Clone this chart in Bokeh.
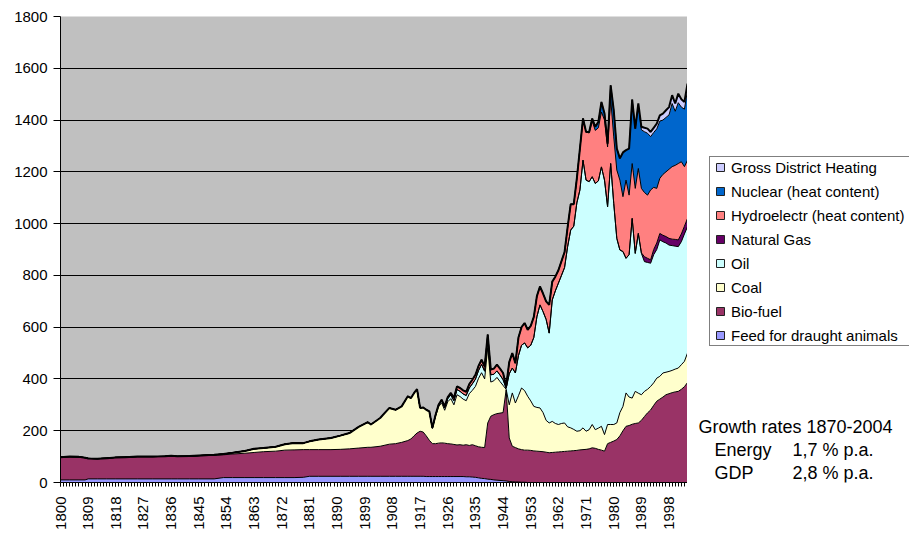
import numpy as np
from bokeh.plotting import figure
from bokeh.layouts import row
from bokeh.models import ColumnDataSource, Range1d, FixedTicker, Legend, LegendItem, Label
from bokeh.embed import file_html
from bokeh.resources import INLINE

# ---------------- data ----------------
years_early = [1800, 1803, 1806, 1808, 1809, 1812, 1815, 1818, 1821, 1825,
               1830, 1834, 1836, 1838, 1842, 1845, 1850, 1853, 1856, 1860,
               1863, 1866, 1870, 1873, 1876, 1879, 1881, 1884, 1888, 1891,
               1894, 1897, 1900, 1901, 1904, 1907, 1909, 1911, 1913, 1914,
               1915, 1916, 1917, 1918, 1919]
years = years_early + list(range(1920, 2005))

feed = [10, 10, 10, 10, 14, 14, 14, 14, 14, 14,
        14, 14, 14, 14, 14, 14, 14, 19, 19, 19,
        19, 19, 19, 19, 19, 20, 24, 24, 24, 24,
        24, 24, 24, 24, 24, 24, 24, 24, 24, 24,
        24, 24, 24, 24, 23,
        23, 23, 23, 23, 23, 23, 23, 23, 23, 23,
        23, 23, 22, 22, 21, 20, 18, 16, 15, 13,
        12, 10, 9, 8, 7, 6, 4, 3, 2, 2,
        1, 1, 0, 0, 0, 0, 0, 0, 0, 0,
        0, 0, 0, 0, 0, 0, 0, 0, 0, 0,
        0, 0, 0, 0, 0, 0, 0, 0, 0, 0,
        0, 0, 0, 0, 0, 0, 0, 0, 0, 0,
        0, 0, 0, 0, 0, 0, 0, 0, 0, 0,
        0, 0, 0, 0, 0]

bio = [88, 90, 89, 86, 79, 78, 80, 83, 84, 86,
       86, 87, 89, 87, 88, 89, 91, 88, 91, 94,
       97, 100, 102, 106, 107, 107, 103, 103, 103, 104,
       106, 109, 112, 112, 116, 124, 126, 131, 138, 144,
       156, 167, 174, 171, 157,
       140, 127, 127, 129, 130, 129, 127, 126, 124, 122,
       123, 121, 124, 121, 125, 122, 120, 120, 120, 217,
       244, 252, 257, 260, 263, 352, 168, 137, 133, 128,
       126, 124, 125, 124, 122, 121, 120, 119, 117, 115,
       116, 117, 118, 119, 120, 121, 122, 123, 124, 126,
       127, 128, 130, 134, 132, 128, 125, 121, 150, 155,
       160, 166, 180, 200, 217, 220, 225, 228, 230, 240,
       255, 269, 280, 298, 314, 322, 330, 339, 343, 347,
       350, 352, 360, 370, 386]

coal = [0, 0, 0, 0, 0, 0, 0, 0, 0, 0,
        0, 0, 0, 0, 0, 1, 2, 3, 5, 9,
        14, 14, 17, 23, 27, 25, 32, 39, 45, 53,
        61, 82, 97, 88, 109, 140, 131, 139, 171, 158,
        165, 170, 90, 95, 101,
        109, 58, 104, 140, 155, 127, 162, 175, 153, 194,
        186, 178, 170, 200, 210, 229, 264, 288, 265, 291,
        132, 131, 140, 122, 105, 2, 128, 206, 172, 205,
        238, 230, 208, 191, 172, 169, 168, 151, 123, 115,
        120, 111, 106, 109, 110, 94, 89, 82, 74, 74,
        84, 70, 74, 90, 72, 82, 92, 64, 74, 69,
        64, 64, 90, 94, 129, 110, 101, 124, 115, 99,
        97, 91, 91, 87, 89, 88, 93, 87, 86, 86,
        88, 90, 95, 98, 114]

oil = [0, 0, 0, 0, 0, 0, 0, 0, 0, 0,
       0, 0, 0, 0, 0, 0, 0, 0, 0, 0,
       0, 0, 0, 0, 0, 0, 0, 0, 0, 0,
       0, 0, 0, 0, 0, 0, 0, 0, 0, 0,
       0, 0, 0, 0, 0,
       3, 3, 5, 6, 8, 10, 12, 14, 16, 20,
       20, 20, 20, 22, 25, 28, 30, 32, 30, 30,
       28, 25, 25, 25, 22, 4, 120, 96, 116, 155,
       165, 184, 187, 215, 266, 350, 398, 390, 390, 347,
       469, 512, 546, 572, 600, 696, 764, 785, 882, 930,
       1034, 970, 958, 957, 951, 955, 1002, 983, 841, 1008,
       854, 713, 628, 598, 520, 550, 694, 533, 617, 546,
       501, 490, 476, 495, 497, 527, 507, 499, 488, 482,
       475, 469, 475, 492, 488]

gas = [0, 0, 0, 0, 0, 0, 0, 0, 0, 0,
       0, 0, 0, 0, 0, 0, 0, 0, 0, 0,
       0, 0, 0, 0, 0, 0, 0, 0, 0, 0,
       0, 0, 0, 0, 0, 0, 0, 0, 0, 0,
       0, 0, 0, 0, 0,
       0, 0, 0, 0, 0, 0, 0, 0, 0, 0,
       0, 0, 0, 0, 0, 0, 0, 0, 0, 0,
       0, 0, 0, 0, 0, 0, 0, 0, 0, 0,
       0, 0, 0, 0, 0, 0, 0, 0, 0, 0,
       0, 0, 0, 0, 0, 0, 0, 0, 0, 0,
       0, 0, 0, 0, 0, 0, 0, 0, 0, 0,
       0, 0, 0, 0, 0, 0, 0, 0, 0, 2,
       19, 16, 13, 20, 25, 25, 25, 25, 26, 25,
       26, 26, 30, 30, 32]

hydro = [0, 0, 0, 0, 0, 0, 0, 0, 0, 0,
         0, 0, 0, 0, 0, 0, 0, 0, 0, 0,
         0, 0, 0, 0, 0, 0, 0, 0, 0, 0,
         0, 0, 0, 0, 0, 0, 0, 0, 0, 0,
         0, 0, 0, 0, 0,
         0, 0, 1, 2, 4, 5, 6, 8, 10, 12,
         13, 14, 14, 15, 16, 17, 18, 18, 18, 20,
         20, 22, 24, 25, 26, 8, 45, 58, 38, 70,
         70, 77, 70, 75, 80, 80, 71, 70, 70, 109,
         71, 55, 50, 55, 60, 75, 100, 85, 95, 160,
         161, 186, 188, 214, 205, 205, 212, 232, 231, 251,
         257, 264, 270, 212, 302, 230, 212, 251, 251, 249,
         248, 244, 270, 240, 211, 213, 235, 250, 267, 280,
         286, 295, 279, 230, 225]

nuclear = [0, 0, 0, 0, 0, 0, 0, 0, 0, 0,
           0, 0, 0, 0, 0, 0, 0, 0, 0, 0,
           0, 0, 0, 0, 0, 0, 0, 0, 0, 0,
           0, 0, 0, 0, 0, 0, 0, 0, 0, 0,
           0, 0, 0, 0, 0,
           0, 0, 0, 0, 0, 0, 0, 0, 0, 0,
           0, 0, 0, 0, 0, 0, 0, 0, 0, 0,
           0, 0, 0, 0, 0, 0, 0, 0, 0, 0,
           0, 0, 0, 0, 0, 0, 0, 0, 0, 0,
           0, 0, 0, 0, 0, 0, 0, 0, 0, 0,
           0, 0, 4, 11, 14, 23, 39, 25, 13, 51,
           103, 83, 84, 171, 116, 180, 247, 231, 246, 226,
           235, 239, 206, 212, 230, 221, 210, 210, 210, 244,
           209, 235, 211, 222, 270]

district_heating = [0, 0, 0, 0, 0, 0, 0, 0, 0, 0,
                    0, 0, 0, 0, 0, 0, 0, 0, 0, 0,
                    0, 0, 0, 0, 0, 0, 0, 0, 0, 0,
                    0, 0, 0, 0, 0, 0, 0, 0, 0, 0,
                    0, 0, 0, 0, 0,
                    0, 0, 0, 0, 0, 0, 0, 0, 0, 0,
                    0, 0, 0, 0, 0, 0, 0, 0, 0, 0,
                    0, 0, 0, 0, 0, 0, 0, 0, 0, 0,
                    0, 0, 0, 0, 0, 0, 0, 0, 0, 0,
                    0, 0, 0, 0, 0, 0, 0, 0, 0, 0,
                    0, 0, 0, 0, 0, 0, 0, 0, 0, 0,
                    0, 0, 0, 0, 0, 0, 0, 0, 5, 12,
                    15, 18, 18, 18, 20, 22, 25, 28, 30, 32,
                    30, 35, 30, 28, 26]

series_names = ["feed", "bio", "coal", "oil", "gas", "hydro", "nuclear", "dh"]
series_labels = ["Feed for draught animals", "Bio-fuel", "Coal", "Oil", "Natural Gas",
                 "Hydroelectr (heat content)", "Nuclear (heat content)", "Gross District Heating"]
series_colors = ["#9999FF", "#993366", "#FFFFCC", "#CCFFFF", "#660066",
                 "#FF8080", "#0066CC", "#CCCCFF"]

x_tick_years = [1800, 1809, 1818, 1827, 1836, 1845, 1854, 1863, 1872, 1881, 1890,
                1899, 1908, 1917, 1926, 1935, 1944, 1953, 1962, 1971, 1980, 1989, 1998]
y_ticks = [0, 200, 400, 600, 800, 1000, 1200, 1400, 1600, 1800]

growth_title = "Growth rates 1870-2004"
growth_rows = [("Energy", "1,7 % p.a."), ("GDP", "2,8 % p.a.")]

# ---------------- main plot ----------------
cols = [feed, bio, coal, oil, gas, hydro, nuclear, district_heating]
data = dict(year=years)
for n, c in zip(series_names, cols):
    data[n] = c
source = ColumnDataSource(data)

FONT = "Liberation Sans"

p = figure(width=687, height=533, output_backend="svg", toolbar_location=None,
           x_range=Range1d(1800, 2004), y_range=Range1d(0, 1800),
           min_border_left=60, min_border_right=0, min_border_top=16,
           min_border_bottom=51)
p.background_fill_color = "#C0C0C0"
p.border_fill_color = "white"
p.outline_line_color = None

p.varea_stack(stackers=series_names, x="year", color=series_colors, source=source)

cum = np.cumsum(np.array(cols, dtype=float), axis=0)
for i in range(len(series_names)):
    p.line(years, cum[i], line_color="black",
           line_width=2 if i == len(series_names) - 1 else 1)

p.xaxis.ticker = FixedTicker(ticks=x_tick_years, minor_ticks=list(range(1800, 2005)))
p.xaxis.major_label_orientation = np.pi / 2
p.xaxis.major_label_text_font = FONT
p.xaxis.major_label_text_font_size = "15px"
p.xaxis.major_label_text_color = "black"
p.xaxis.major_label_standoff = 10
p.xaxis.major_tick_out = 4
p.xaxis.major_tick_in = 0
p.xaxis.minor_tick_out = 4
p.xaxis.minor_tick_in = 0
p.xaxis.axis_line_color = "black"
p.xaxis.major_tick_line_color = "black"
p.xaxis.minor_tick_line_color = "black"

p.yaxis.ticker = FixedTicker(ticks=y_ticks, minor_ticks=[])
p.yaxis.major_label_text_font = FONT
p.yaxis.major_label_text_font_size = "15px"
p.yaxis.major_label_text_color = "black"
p.yaxis.major_label_standoff = 6
p.yaxis.major_tick_out = 7
p.yaxis.major_tick_in = 0
p.yaxis.minor_tick_out = 0
p.yaxis.minor_tick_in = 0
p.yaxis.axis_line_color = "black"
p.yaxis.major_tick_line_color = "black"

p.xgrid.grid_line_color = None
p.ygrid.ticker = FixedTicker(ticks=y_ticks)
p.ygrid.grid_line_color = "black"
p.ygrid.grid_line_width = 1

# ---------------- side panel: legend + growth note ----------------
side = figure(width=222, height=533, output_backend="svg", toolbar_location=None,
              x_range=Range1d(0, 1), y_range=Range1d(0, 1),
              x_axis_type=None, y_axis_type=None, min_border=0)
side.grid.grid_line_color = None
side.outline_line_color = None
side.background_fill_color = "white"
side.border_fill_color = "white"

items = []
for idx in reversed(range(len(series_names))):
    r = side.scatter(x=[np.nan], y=[np.nan], marker="square", size=8,
                     fill_color=series_colors[idx], line_color="#222222", line_width=1)
    items.append(LegendItem(label=series_labels[idx], renderers=[r]))

legend = Legend(items=items, location=(22, 136), orientation="vertical",
                glyph_width=20, glyph_height=20, label_height=20, spacing=4,
                padding=0, margin=0, label_standoff=1, label_width=178,
                border_line_color="black", border_line_width=1,
                background_fill_color="white", background_fill_alpha=1.0,
                label_text_font=FONT, label_text_font_size="15px",
                label_text_color="black")
side.add_layout(legend)

side.add_layout(Label(x=11, y=56, x_units="screen", y_units="screen", text=growth_title,
                      text_font=FONT, text_font_size="18px", text_baseline="alphabetic",
                      text_color="black"))
for k, (a, b) in enumerate(growth_rows):
    yy = 33 - 23 * k
    side.add_layout(Label(x=27, y=yy, x_units="screen", y_units="screen", text=a,
                          text_font=FONT, text_font_size="18px", text_baseline="alphabetic",
                          text_color="black"))
    side.add_layout(Label(x=105, y=yy, x_units="screen", y_units="screen", text=b,
                          text_font=FONT, text_font_size="18px", text_baseline="alphabetic",
                          text_color="black"))

layout = row(p, side, spacing=0)
open("out.html", "w").write(file_html(layout, INLINE))
